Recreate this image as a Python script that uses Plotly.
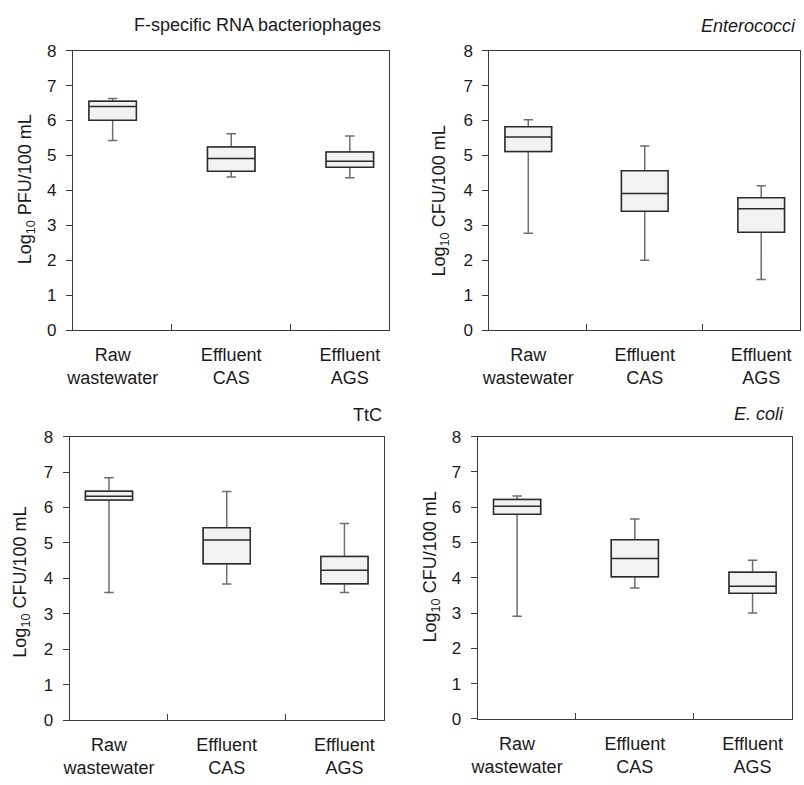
import plotly.graph_objects as go

categories = ["Raw<br>wastewater", "Effluent<br>CAS", "Effluent<br>AGS"]
panel_titles = ["F-specific RNA bacteriophages", "<i>Enterococci</i>", "TtC", "<i>E. coli</i>"]
y_titles = ["Log<sub>10</sub> PFU/100 mL", "Log<sub>10</sub> CFU/100 mL",
            "Log<sub>10</sub> CFU/100 mL", "Log<sub>10</sub> CFU/100 mL"]

# F-specific RNA bacteriophages
frna_low = [5.43, 4.38, 4.36]
frna_q1 = [6.01, 4.55, 4.66]
frna_med = [6.40, 4.91, 4.83]
frna_q3 = [6.55, 5.24, 5.10]
frna_high = [6.63, 5.62, 5.56]

# Enterococci
ent_low = [2.77, 2.00, 1.45]
ent_q1 = [5.11, 3.40, 2.80]
ent_med = [5.53, 3.91, 3.47]
ent_q3 = [5.82, 4.56, 3.79]
ent_high = [6.02, 5.27, 4.13]

# TtC
ttc_low = [3.60, 3.84, 3.60]
ttc_q1 = [6.21, 4.41, 3.85]
ttc_med = [6.32, 5.08, 4.23]
ttc_q3 = [6.46, 5.43, 4.62]
ttc_high = [6.84, 6.45, 5.55]

# E. coli
eco_low = [2.91, 3.71, 3.00]
eco_q1 = [5.80, 4.03, 3.56]
eco_med = [6.03, 4.55, 3.76]
eco_q3 = [6.22, 5.08, 4.16]
eco_high = [6.32, 5.67, 4.50]

panels = [
    (frna_low, frna_q1, frna_med, frna_q3, frna_high),
    (ent_low, ent_q1, ent_med, ent_q3, ent_high),
    (ttc_low, ttc_q1, ttc_med, ttc_q3, ttc_high),
    (eco_low, eco_q1, eco_med, eco_q3, eco_high),
]

W, H = 804, 785
# plot areas in pixels: (left, right, top, bottom)
areas = [
    (66.7, 385.7, 42.7, 329.0),
    (486.7, 800.0, 42.7, 329.0),
    (63.3, 380.0, 438.3, 728.7),
    (475.0, 791.7, 438.3, 727.5),
]
title_pos = [(379, 16), (798, 17), (380, 416), (786, 415)]
ytitle_pos = [(20, 185), (437, 197), (15, 587), (428, 572)]


def fx(p):
    return p / W


def fy(p):
    return 1 - p / H


FONT = "Liberation Sans, Arial, sans-serif"
TXT = "#1a1a1a"

fig = go.Figure()
layout = dict(
    width=W, height=H, autosize=False,
    margin=dict(l=0, r=0, t=0, b=0),
    paper_bgcolor="white", plot_bgcolor="white",
    showlegend=False, boxmode="overlay",
    font=dict(family=FONT, size=17, color=TXT),
)
annotations = []
for i, (low, q1, med, q3, high) in enumerate(panels):
    n = "" if i == 0 else str(i + 1)
    xa, ya = "x" + n, "y" + n
    # whiskers (grey)
    fig.add_trace(go.Box(
        x=categories, q1=q1, median=med, q3=q3, lowerfence=low, upperfence=high,
        xaxis=xa, yaxis=ya, width=0.4, whiskerwidth=0.2,
        fillcolor="#f2f2f2", line=dict(color="#6e6e6e", width=1.5),
        hoverinfo="skip",
    ))
    # box body (dark outline)
    fig.add_trace(go.Box(
        x=categories, q1=q1, median=med, q3=q3, lowerfence=q1, upperfence=q3,
        xaxis=xa, yaxis=ya, width=0.4, whiskerwidth=0,
        fillcolor="#f2f2f2", line=dict(color="#2b2b2b", width=1.5),
    ))
    l, r, t, b = areas[i]
    layout["xaxis" + n] = dict(
        domain=[fx(l), fx(r)], anchor=ya, type="category",
        showline=True, linecolor="#3a3a3a", linewidth=1.3, mirror=True,
        ticks="inside", tickson="boundaries", ticklen=6, tickcolor="#3a3a3a",
        showgrid=False, zeroline=False, ticklabelstandoff=8,
        tickfont=dict(family=FONT, size=18, color=TXT),
    )
    layout["yaxis" + n] = dict(
        domain=[fy(b), fy(t)], anchor=xa, range=[0, 8], dtick=1,
        showline=True, linecolor="#3a3a3a", linewidth=1.3, mirror=True,
        ticks="outside", ticklen=6, tickcolor="#3a3a3a",
        showgrid=False, zeroline=False, ticklabelstandoff=6,
        tickfont=dict(family=FONT, size=17, color=TXT),
    )
    tx, ty = title_pos[i]
    annotations.append(dict(
        text=panel_titles[i], x=fx(tx), y=fy(ty), xref="paper", yref="paper",
        xanchor="right", yanchor="middle", showarrow=False,
        font=dict(family=FONT, size=18, color=TXT),
    ))
    yx, yy = ytitle_pos[i]
    annotations.append(dict(
        text=y_titles[i], x=fx(yx), y=fy(yy), xref="paper", yref="paper",
        xanchor="center", yanchor="middle", showarrow=False, textangle=-90,
        font=dict(family=FONT, size=18, color=TXT),
    ))

layout["annotations"] = annotations
fig.update_layout(**layout)
fig.write_html(
    "out.html",
    config={"displayModeBar": False},
    post_script="document.body.style.margin='0';document.body.style.overflow='hidden';",
)
